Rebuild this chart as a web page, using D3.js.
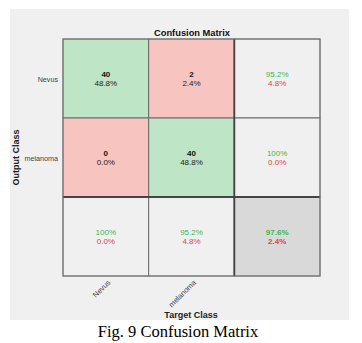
<!DOCTYPE html>
<html>
<head>
<meta charset="utf-8">
<script src="https://cdn.jsdelivr.net/npm/d3@7"></script>
<style>
  html, body { margin: 0; padding: 0; background: #fff; }
  svg { display: block; }
</style>
</head>
<body>
<svg id="chart" width="362" height="343"></svg>
<script>
// Class names and the 2x2 confusion counts (rows = output class, cols = target class)
const classes = ["Nevus", "melanoma"];
const counts = [
  [40, 2],
  [0, 40]
];
// Row summaries (precision / false discovery), column summaries (recall / miss rate)
const rowSummary = [["95.2%", "4.8%"], ["100%", "0.0%"]];
const colSummary = [["100%", "0.0%"], ["95.2%", "4.8%"]];
const overall = ["97.6%", "2.4%"];

const total = d3.sum(counts.flat());
const svg = d3.select("#chart");

// Figure panel background
svg.append("rect").attr("x", 10).attr("y", 9).attr("width", 339).attr("height", 311).attr("fill", "#f0f0f0");

const n = classes.length;
const x = d3.scaleBand().domain(d3.range(n + 1)).range([63, 320]);
const y = d3.scaleBand().domain(d3.range(n + 1)).range([39, 276]);

const green = "#bde5c6", red = "#f8c4c0", grey = "#f0f0f0", dark = "#d9d9d9";
const gText = "#3fb54c", rText = "#e0443a";

const cells = [];
for (let i = 0; i <= n; i++) {
  for (let j = 0; j <= n; j++) {
    let fill, lines;
    if (i < n && j < n) {
      fill = i === j ? green : red;
      lines = [
        { t: String(counts[i][j]), c: "#111", w: "bold" },
        { t: (counts[i][j] / total * 100).toFixed(1) + "%", c: "#222", w: "normal" }
      ];
    } else if (i < n) {
      fill = grey;
      lines = [{ t: rowSummary[i][0], c: gText, w: "normal" }, { t: rowSummary[i][1], c: rText, w: "normal" }];
    } else if (j < n) {
      fill = grey;
      lines = [{ t: colSummary[j][0], c: gText, w: "normal" }, { t: colSummary[j][1], c: rText, w: "normal" }];
    } else {
      fill = dark;
      lines = [{ t: overall[0], c: gText, w: "bold" }, { t: overall[1], c: rText, w: "bold" }];
    }
    cells.push({ i, j, fill, lines });
  }
}

const g = svg.append("g").attr("font-family", "Arial, 'Liberation Sans', Helvetica, sans-serif");

const cell = g.selectAll("g.cell").data(cells).join("g").attr("class", "cell");
cell.append("rect")
  .attr("x", d => x(d.j)).attr("y", d => y(d.i))
  .attr("width", x.bandwidth()).attr("height", y.bandwidth())
  .attr("fill", d => d.fill)
  .attr("stroke", "#6a6a6a").attr("stroke-width", 1);

cell.selectAll("text").data(d => d.lines.map((l, k) => ({ ...l, k, d })))
  .join("text")
  .attr("x", l => x(l.d.j) + x.bandwidth() / 2)
  .attr("y", l => y(l.d.i) + y.bandwidth() / 2 - 2 + l.k * 9)
  .attr("text-anchor", "middle")
  .attr("font-size", 8)
  .attr("font-weight", l => l.w)
  .attr("fill", l => l.c)
  .text(l => l.t);

// Heavier separators around the summary row and column
g.append("line").attr("x1", x(n)).attr("x2", x(n)).attr("y1", y(0)).attr("y2", 276)
  .attr("stroke", "#444").attr("stroke-width", 1.8);
g.append("line").attr("x1", 63).attr("x2", 320).attr("y1", y(n)).attr("y2", y(n))
  .attr("stroke", "#444").attr("stroke-width", 1.8);
// Outer frame
g.append("rect").attr("x", 63).attr("y", 39).attr("width", 257).attr("height", 237)
  .attr("fill", "none").attr("stroke", "#7a7a7a").attr("stroke-width", 1);

// Row labels
g.selectAll("text.rowlab").data(classes).join("text").attr("class", "rowlab")
  .attr("x", 58).attr("y", (d, i) => y(i) + y.bandwidth() / 2 + 3)
  .attr("text-anchor", "end").attr("font-size", 7.2).attr("fill", "#444")
  .text(d => d);

// Column labels, rotated
g.selectAll("text.collab").data(classes).join("text").attr("class", "collab")
  .attr("transform", (d, i) => `translate(${x(i) + x.bandwidth() / 2 + 5},${283}) rotate(-45)`)
  .attr("text-anchor", "end").attr("font-size", 7.5).attr("fill", "#444")
  .text(d => d);

// Titles
g.append("text").attr("x", 192).attr("y", 36).attr("text-anchor", "middle")
  .attr("font-size", 9.3).attr("font-weight", "bold").attr("fill", "#111").text("Confusion Matrix");
g.append("text").attr("x", 191).attr("y", 318).attr("text-anchor", "middle")
  .attr("font-size", 9).attr("font-weight", "bold").attr("fill", "#222").text("Target Class");
g.append("text").attr("transform", "translate(19,157.5) rotate(-90)").attr("text-anchor", "middle")
  .attr("font-size", 9).attr("font-weight", "bold").attr("fill", "#222").text("Output Class");

// Caption
svg.append("text").attr("x", 178).attr("y", 337).attr("text-anchor", "middle")
  .attr("font-family", "'Liberation Serif', 'Times New Roman', serif").attr("font-size", 16.5)
  .attr("fill", "#000").text("Fig. 9 Confusion Matrix");
</script>
</body>
</html>
